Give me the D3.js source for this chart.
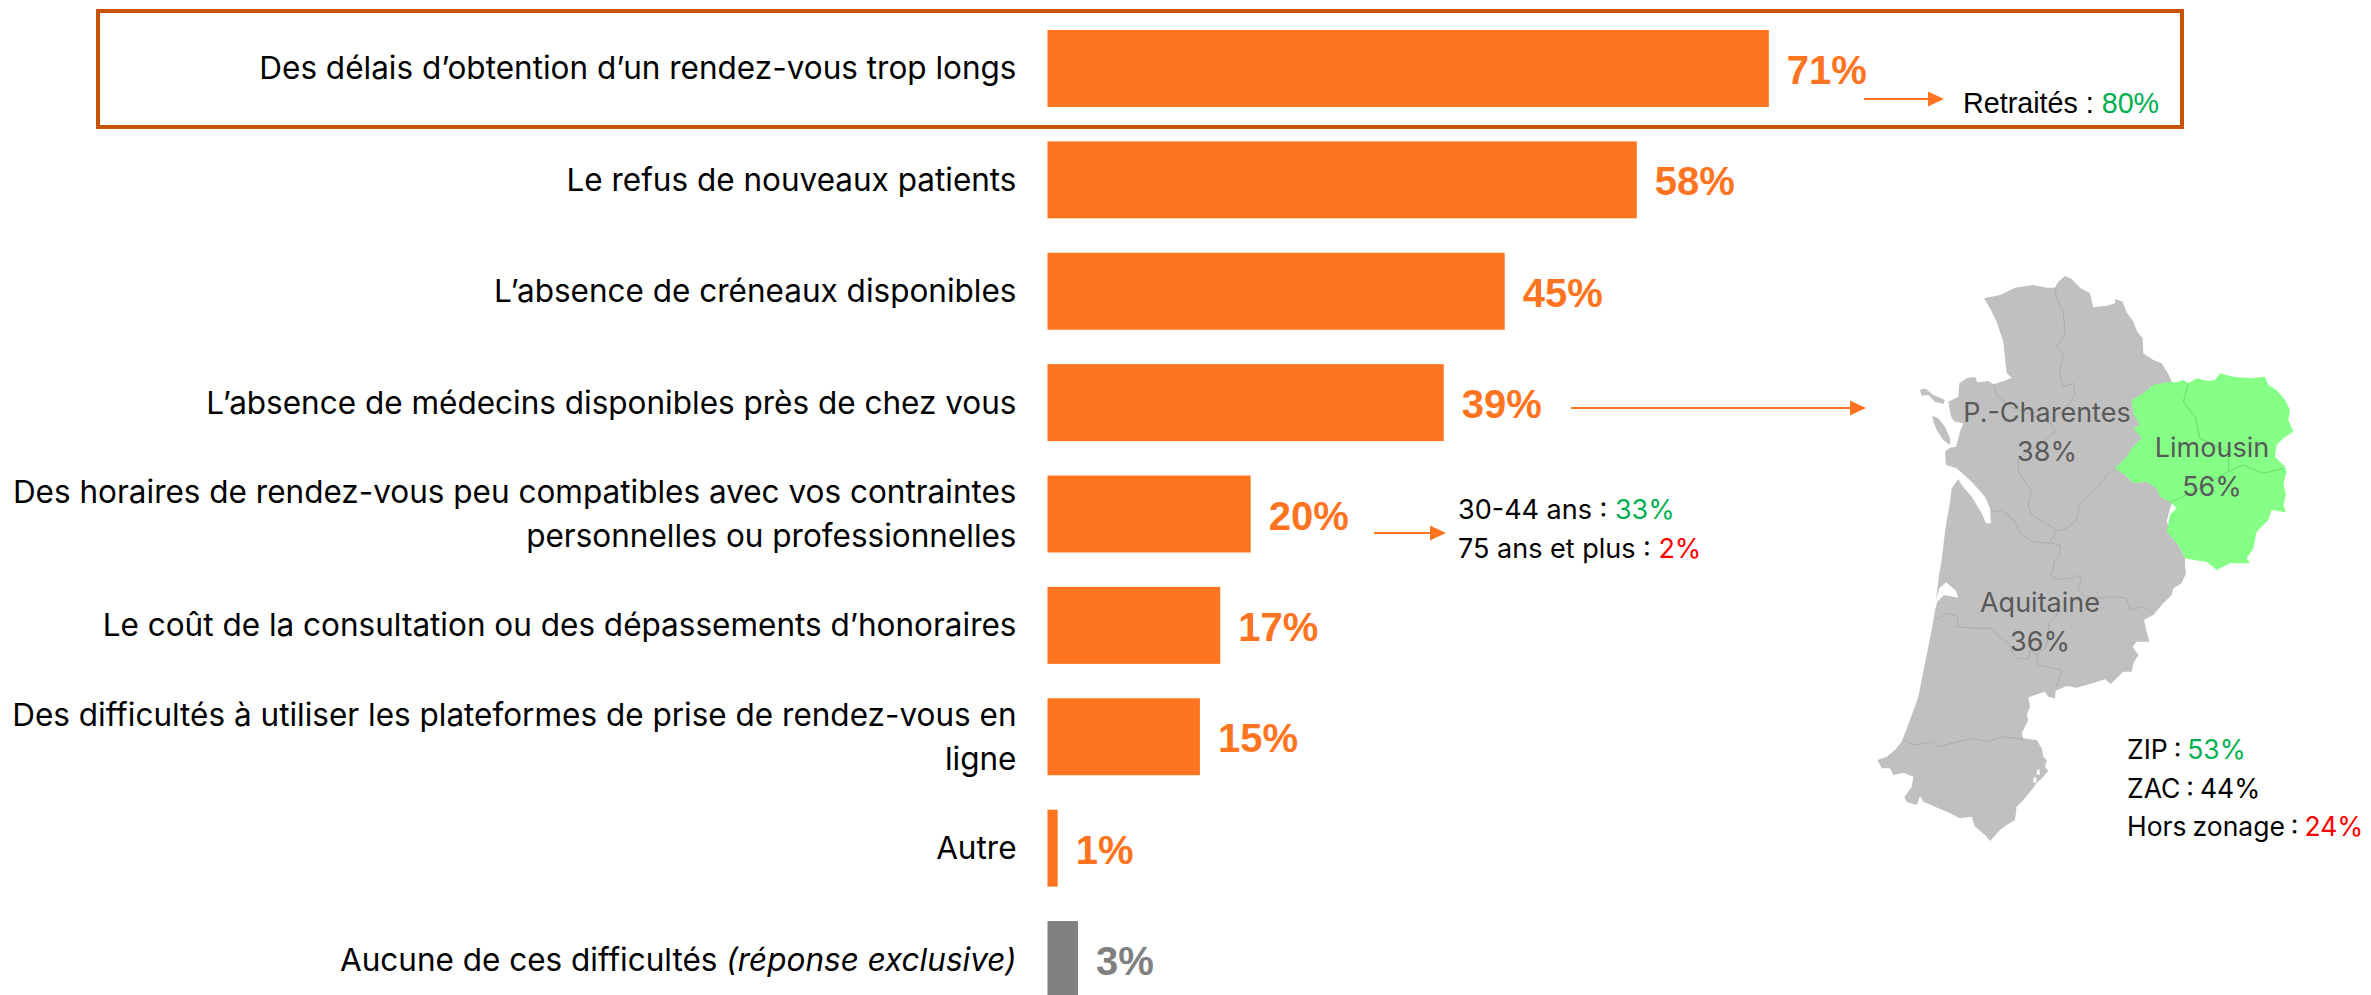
<!DOCTYPE html>
<html>
<head>
<meta charset="utf-8">
<style>
  body { margin: 0; background: #fff; }
  svg { display: block; }
  text { font-family: Inter, sans-serif; }
  .val { font-family: "Liberation Sans", Arial, sans-serif; font-weight: 700; font-size: 40px; }
  .note { font-size: 27px; fill: #000; }
  .region { font-size: 27px; fill: #595959; text-anchor: middle; }
</style>
</head>
<body>
<svg id="chart" width="2371" height="995"></svg>
<script src="https://cdn.jsdelivr.net/npm/d3@7"></script>
<script>
// Chart data
const categories = [
    "Des délais d’obtention d’un rendez-vous trop longs",
    "Le refus de nouveaux patients",
    "L’absence de créneaux disponibles",
    "L’absence de médecins disponibles près de chez vous",
    "Des horaires de rendez-vous peu compatibles avec vos contraintes\npersonnelles ou professionnelles",
    "Le coût de la consultation ou des dépassements d’honoraires",
    "Des difficultés à utiliser les plateformes de prise de rendez-vous en\nligne",
    "Autre",
    "Aucune de ces difficultés (réponse exclusive)"
];
const values = [71, 58, 45, 39, 20, 17, 15, 1, 3];
const barColors = ["#ff7420", "#ff7420", "#ff7420", "#ff7420", "#ff7420", "#ff7420", "#ff7420", "#ff7420", "#808080"];

const regionNames = ["P.-Charentes", "Limousin", "Aquitaine"];
const regionValues = [38, 56, 36];
const zoneNames = ["ZIP", "ZAC", "Hors zonage"];
const zoneValues = [53, 44, 24];
const zoneColors = ["#00b050", "#000", "#ff0000"];
const ageNames = ["30-44 ans", "75 ans et plus"];
const ageValues = [33, 2];
const ageColors = ["#00b050", "#ff0000"];

// Map outlines (3 units = 1 px)
const coastOutline = [[252,70],[300,60],[345,38],[400,30],[440,38],[465,38],[475,20],[495,3],[515,12],[540,38],[570,55],[580,97],[620,92],[645,85],[645,72],[668,80],[680,112],[700,140],[712,170],[728,190],[730,235],[760,255],[785,265],[805,297],[850,400],[850,600],[810,700],[800,740],[830,800],[855,850],[855,870],[858,895],[845,925],[820,940],[815,960],[785,990],[760,1020],[732,1035],[740,1070],[748,1100],[710,1100],[698,1115],[715,1140],[700,1165],[695,1190],[670,1190],[650,1210],[632,1227],[615,1213],[570,1227],[530,1238],[500,1233],[467,1247],[465,1270],[445,1265],[435,1250],[385,1267],[390,1295],[380,1320],[385,1335],[375,1355],[365,1375],[370,1390],[410,1395],[425,1420],[430,1445],[440,1455],[435,1475],[445,1487],[430,1505],[410,1525],[395,1545],[370,1575],[350,1595],[345,1635],[320,1650],[300,1665],[270,1698],[255,1680],[225,1655],[215,1625],[180,1630],[150,1615],[115,1600],[70,1580],[60,1563],[50,1590],[20,1580],[13,1567],[35,1535],[40,1505],[10,1493],[-20,1500],[-30,1480],[-55,1480],[-68,1455],[-40,1445],[-15,1425],[5,1400],[30,1335],[55,1265],[75,1165],[95,1065],[105,1005],[112,980],[132,960],[175,968],[168,947],[138,922],[118,940],[108,975],[118,895],[125,855],[135,770],[150,680],[155,640],[175,612],[185,630],[215,665],[245,715],[258,745],[273,745],[270,700],[255,665],[215,620],[170,580],[138,570],[135,530],[150,518],[168,515],[180,470],[190,445],[165,440],[155,430],[150,410],[145,380],[175,365],[178,325],[200,310],[225,305],[232,322],[265,318],[280,328],[320,315],[335,308],[320,295],[315,250],[310,200],[290,140],[270,100],[252,70]];
const enclaves = [[[400,1510],[408,1505],[410,1523],[400,1522],[400,1510]], [[410,1487],[418,1482],[420,1498],[411,1500],[410,1487]]];
const ileDeRe = [[60,345],[75,340],[100,360],[135,375],[130,387],[105,380],[85,360],[65,362],[60,345]];
const oleron = [[97,422],[115,430],[135,455],[150,490],[150,510],[130,495],[110,465],[100,440],[97,422]];
const limousinOutline = [[760,330],[800,322],[830,322],[850,315],[865,325],[890,310],[925,318],[945,315],[960,295],[1000,305],[1050,310],[1095,305],[1105,330],[1130,345],[1155,375],[1170,405],[1165,435],[1180,470],[1150,490],[1130,510],[1125,545],[1155,575],[1160,590],[1150,625],[1158,660],[1150,690],[1158,712],[1115,705],[1105,735],[1070,770],[1060,820],[1040,850],[1050,865],[990,865],[950,885],[920,860],[880,855],[855,850],[835,810],[800,770],[810,720],[830,700],[810,680],[780,665],[770,640],[740,620],[700,625],[675,600],[645,580],[680,545],[695,520],[725,490],[700,460],[720,450],[700,415],[695,375],[730,355],[760,330]];
const greyBorders = [
    [[465,38],[470,70],[490,110],[495,175],[470,215],[490,240],[478,290],[490,335],[520,325],[525,355],[510,385],[450,440],[465,470],[430,500],[355,550],[355,590],[395,650],[385,690],[395,720],[430,740],[470,765]],
    [[280,328],[290,360],[330,395],[420,430],[450,445]],
    [[275,712],[305,705],[345,740],[360,775],[400,800],[450,805],[465,770],[500,760],[530,735],[540,685],[590,640],[620,600],[645,580]],
    [[455,805],[480,810],[480,840],[465,855],[460,880],[450,900],[470,913],[520,910],[530,900],[545,910],[535,940],[555,965],[600,970],[635,965],[680,970],[690,1005],[730,995],[760,1015]],
    [[105,1033],[145,1015],[175,1025],[170,1055],[225,1060],[275,1060],[290,1080],[325,1105],[340,1135],[350,1150],[385,1152],[390,1125],[410,1140],[435,1120],[450,1075],[445,1050],[470,1020],[475,1000]],
    [[410,1140],[415,1170],[455,1180],[485,1185],[470,1235]],
    [[10,1395],[45,1410],[95,1400],[115,1415],[155,1405],[220,1390],[260,1400],[310,1385],[370,1393]]
];
const greenBorders = [
    [[865,325],[850,380],[885,425],[900,490],[985,530],[985,590],[1030,570],[1090,595],[1150,580]],
    [[985,590],[900,640],[815,680]]
];

const svg = d3.select("#chart");
const orange = "#ff7420";

// Highlight box round the first row
svg.append("rect")
    .attr("x", 98).attr("y", 11)
    .attr("width", 2084).attr("height", 116)
    .attr("fill", "none")
    .attr("stroke", "#c65306")
    .attr("stroke-width", 4);

// Scales
const x = d3.scaleLinear().domain([0, 100]).range([1047.5, 2063.5]);
const y = d3.scaleBand().domain(categories).range([30, 998]).paddingInner(0.309).paddingOuter(0);

// Bars
svg.selectAll("rect.bar")
    .data(values)
    .enter()
    .append("rect")
    .attr("class", "bar")
    .attr("x", x(0))
    .attr("y", (d, i) => y(categories[i]))
    .attr("width", d => x(d) - x(0))
    .attr("height", y.bandwidth())
    .attr("fill", (d, i) => barColors[i]);

// Value labels
svg.selectAll("text.val")
    .data(values)
    .enter()
    .append("text")
    .attr("class", "val")
    .attr("x", d => x(d) + 18)
    .attr("y", (d, i) => y(categories[i]) + y.bandwidth() / 2 + 15.5)
    .attr("fill", (d, i) => barColors[i])
    .text(d => d + "%");

// Category axis, wrapped labels
const axis = svg.append("g")
    .attr("transform", `translate(${x(0)}, 0)`)
    .call(d3.axisLeft(y).tickSize(0).tickPadding(31));
axis.select(".domain").remove();
axis.selectAll("text").each(function(d) {
    const t = d3.select(this).attr("dy", null)
        .style("font-family", "Inter, sans-serif")
        .style("font-size", "31.5px")
        .attr("fill", "#000")
        .text(null);
    const lines = d.split("\n");
    lines.forEach((line, i) => {
        const first = lines.length === 1 ? 11 : -11;
        const parts = line.split(" (");
        t.append("tspan")
            .attr("x", -31)
            .attr("dy", i === 0 ? first : 44.3)
            .text(parts[0] + (parts[1] ? " " : ""));
        if (parts[1]) {
            t.append("tspan").style("font-style", "italic").text("(" + parts[1]);
        }
    });
});

// Arrows
const arrows = [
    {x1: 1864, x2: 1944, y: 99},
    {x1: 1571, x2: 1866, y: 408},
    {x1: 1374, x2: 1446, y: 533}
];
arrows.forEach(a => {
    svg.append("line")
        .attr("x1", a.x1).attr("x2", a.x2 - 10)
        .attr("y1", a.y).attr("y2", a.y)
        .attr("stroke", orange)
        .attr("stroke-width", 2);
    svg.append("path")
        .attr("d", `M${a.x2},${a.y}L${a.x2 - 16},${a.y - 7.6}V${a.y + 7.6}Z`)
        .attr("fill", orange);
});

// Notes next to the bars
const note = (parent, px, py, label, val, color) => {
    const t = parent.append("text").attr("class", "note").attr("x", px).attr("y", py);
    t.append("tspan").text(label + " : ");
    t.append("tspan").attr("fill", color).text(val + "%");
    return t;
};
note(svg, 1963, 113, "Retraités", 80, "#00b050")
    .style("font-family", "'Liberation Sans', Arial, sans-serif")
    .style("font-size", "28.7px");
ageNames.forEach((n, i) => note(svg, 1458, 518.5 + i * 39, n, ageValues[i], ageColors[i]));
zoneNames.forEach((n, i) => note(svg, 2127, 759 + i * 38.5, n, zoneValues[i], zoneColors[i])
    .style("font-size", "26.5px")
    .style("word-spacing", "-1.5px"));

// Map
const projection = d3.geoIdentity().scale(1 / 3).translate([1900, 275]);
const path = d3.geoPath(projection);
const map = svg.append("g");
map.append("path")
    .datum({type: "MultiPolygon", coordinates: [[coastOutline, ...enclaves], [ileDeRe], [oleron]]})
    .attr("d", path)
    .attr("fill", "#c0c0c0")
    .attr("fill-rule", "evenodd");
map.append("path")
    .datum({type: "MultiLineString", coordinates: greyBorders})
    .attr("d", path)
    .attr("fill", "none")
    .attr("stroke", "#adadad")
    .attr("stroke-width", 1);
map.append("path")
    .datum({type: "Polygon", coordinates: [limousinOutline]})
    .attr("d", path)
    .attr("fill", "#85ff85");
map.append("path")
    .datum({type: "MultiLineString", coordinates: greenBorders})
    .attr("d", path)
    .attr("fill", "none")
    .attr("stroke", "#6fd56f")
    .attr("stroke-width", 1);

// Region labels
const regionPos = [[2047, 421.5], [2212, 456.5], [2040, 611.5]];
regionNames.forEach((n, i) => {
    svg.append("text").attr("class", "region")
        .attr("x", regionPos[i][0]).attr("y", regionPos[i][1]).text(n);
    svg.append("text").attr("class", "region")
        .attr("x", regionPos[i][0]).attr("y", regionPos[i][1] + 39).text(regionValues[i] + "%");
});
</script>
</body>
</html>
